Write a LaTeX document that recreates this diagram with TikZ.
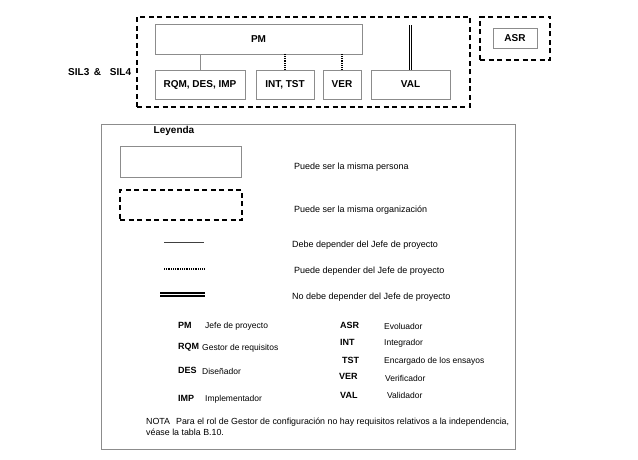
\documentclass[tikz,border=0pt]{standalone}
\usepackage{fontspec}
\setmainfont{Liberation Sans}
\usepackage{xcolor}
\usepackage{tikz}
\usetikzlibrary{calc}
\definecolor{frame}{HTML}{8C8C8C}
\definecolor{ink}{HTML}{000000}
\tikzset{
  person/.style={draw=frame, line width=0.8pt, fill=white, inner sep=0pt, font=\fontsize{10}{12}\selectfont\bfseries},
  orgbox/.style={draw=ink, line width=1.6pt, dash pattern=on 5pt off 3.5pt, inner sep=0pt},
  mustdep/.style={draw=frame, line width=0.8pt},
  maydep/.style={draw=ink, line width=1.6pt, dash pattern=on 1pt off 0.8pt},
  nodep/.style={draw=ink, line width=1.2pt, double=white, double distance=0.8pt},
  lab/.style={anchor=west, inner sep=0pt, font=\fontsize{9}{11}\selectfont},
  abbr/.style={anchor=west, inner sep=0pt, font=\fontsize{9}{11}\selectfont\bfseries},
}

\begin{document}
\begin{tikzpicture}[x=1pt, y=-1pt]
  \useasboundingbox[fill=white] (0,0) rectangle (638,460);
  % organisation SIL3 & SIL4
  \node[orgbox, minimum width=333pt, minimum height=90pt] (org) at (303.5,62) {};
  \node[person, minimum width=207pt, minimum height=30pt] (pm) at (258.5,39) {PM};
  \node[person, minimum width=90pt, minimum height=29pt] (rqm) at (200,84.5) {RQM, DES, IMP};
  \node[person, minimum width=58pt, minimum height=29pt] (inttst) at (285,84.5) {INT, TST};
  \node[person, minimum width=38pt, minimum height=29pt] (ver) at (342,84.5) {VER};
  \node[person, minimum width=79pt, minimum height=29pt] (val) at (410.5,84.5) {VAL};
  \coordinate (valtop) at (410.5,25);
  \node[font=\fontsize{10}{12}\selectfont\bfseries, anchor=west, inner sep=0pt] (sil) at (68,72) {SIL3 \,\&\hspace{9pt}SIL4};
  \draw[mustdep] (rqm.north) -- (rqm.north |- pm.south);
  \draw[maydep] (inttst.north) -- (inttst.north |- pm.south);
  \draw[maydep] (ver.north) -- (ver.north |- pm.south);
  \draw[nodep] (val.north) -- (valtop);
  % assessor
  \node[orgbox, minimum width=70pt, minimum height=43pt] (asrorg) at (515,38.5) {};
  \node[person, minimum width=44pt, minimum height=20pt] (asr) at (515,38) {ASR};

  % legend
  \node[draw=frame, line width=0.8pt, minimum width=414pt, minimum height=325pt, inner sep=0pt] (legend) at (308,286.5) {};
  \node[font=\fontsize{10}{12}\selectfont\bfseries, inner sep=0pt] (leyenda) at (174,131) {Leyenda};
  \node[person, minimum width=121pt, minimum height=31pt] (samebox) at (180.5,161.5) {};
  \node[orgbox, minimum width=122pt, minimum height=30pt] (sameorg) at (181,205) {};
  \coordinate (must1) at (164,242);  \coordinate (must2) at (204,242);
  \coordinate (may1) at (164,269);   \coordinate (may2) at (204,269);
  \coordinate (no1) at (160,294);    \coordinate (no2) at (205,294);
  \draw[mustdep, draw=ink!75, line width=0.9pt] (must1) -- (must2);
  \draw[maydep] (may1) -- (may2);
  \draw[nodep, line width=2pt, double distance=1pt] (no1) -- (no2);
  \node[lab] (t1) at (294,167) {Puede ser la misma persona};
  \node[lab] (t2) at (294,210) {Puede ser la misma organización};
  \node[lab] (t3) at (292,245) {Debe depender del Jefe de proyecto};
  \node[lab] (t4) at (294,271) {Puede depender del Jefe de proyecto};
  \node[lab] (t5) at (292,297) {No debe depender del Jefe de proyecto};

  % abbreviations
  \node[abbr] (apm) at (178,325) {PM};
  \node[lab, font=\fontsize{8.5}{10}\selectfont] (dpm) at (205,326) {Jefe de proyecto};
  \node[abbr] (arqm) at (178,347) {RQM};
  \node[lab, font=\fontsize{8.5}{10}\selectfont] (drqm) at (202,348) {Gestor de requisitos};
  \node[abbr] (ades) at (178,370) {DES};
  \node[lab, font=\fontsize{8.5}{10}\selectfont] (ddes) at (202,371) {Diseñador};
  \node[abbr] (aimp) at (178,398) {IMP};
  \node[lab, font=\fontsize{8.5}{10}\selectfont] (dimp) at (205,399) {Implementador};
  \node[abbr] (aasr) at (340,325) {ASR};
  \node[lab, font=\fontsize{8.5}{10}\selectfont] (dasr) at (384,326) {Evoluador};
  \node[abbr] (aint) at (340,342) {INT};
  \node[lab, font=\fontsize{8.5}{10}\selectfont] (dint) at (384,343) {Integrador};
  \node[abbr] (atst) at (342,360) {TST};
  \node[lab, font=\fontsize{8.5}{10}\selectfont] (dtst) at (384,361) {Encargado de los ensayos};
  \node[abbr] (aver) at (339,376) {VER};
  \node[lab, font=\fontsize{8.5}{10}\selectfont] (dver) at (385,378) {Verificador};
  \node[abbr] (aval) at (340,395) {VAL};
  \node[lab, font=\fontsize{8.5}{10}\selectfont] (dval) at (387,395) {Validador};
  \node[lab, anchor=north west, align=left, font=\fontsize{8.85}{10.5}\selectfont] (nota) at (146,418)
    {NOTA\hspace{6pt}Para el rol de Gestor de configuración no hay requisitos relativos a la independencia,\\véase la tabla B.10.};
\end{tikzpicture}
\end{document}
